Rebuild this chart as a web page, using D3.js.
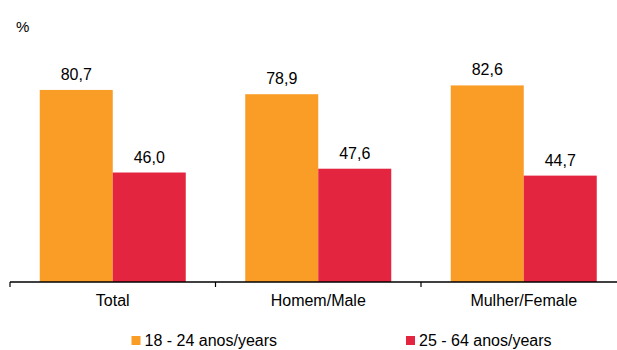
<!DOCTYPE html>
<html><head><meta charset="utf-8">
<script src="https://cdn.jsdelivr.net/npm/d3@7"></script>
<style>body{margin:0;background:#fff}svg{display:block}text{font-family:"Liberation Sans",Arial,sans-serif;fill:#000}</style>
</head><body>
<script>
const categories = ["Total", "Homem/Male", "Mulher/Female"];
const seriesNames = ["18 - 24 anos/years", "25 - 64 anos/years"];
const values18_24 = [80.7, 78.9, 82.6];
const values25_64 = [46.0, 47.6, 44.7];
const colors = ["#F99D27", "#E4253F"];

const W = 617, H = 350;
const svg = d3.select("body").append("svg").attr("width", W).attr("height", H);
const x = d3.scaleBand().domain(categories).range([10, 626.5]).padding(0);
const xs = d3.scaleBand().domain(seriesNames).range([0, x.bandwidth()]).paddingInner(0).paddingOuter(0.4075);
const y = d3.scaleLinear().domain([0, 100]).range([282, 44]);
const fmt = v => v.toFixed(1).replace(".", ",");

const data = categories.map((c, i) => ({cat: c, vals: [values18_24[i], values25_64[i]]}));
const g = svg.selectAll("g.cat").data(data).join("g").attr("transform", d => `translate(${x(d.cat)},0)`);
g.selectAll("rect").data(d => d.vals.map((v, j) => ({s: seriesNames[j], v, j}))).join("rect")
  .attr("x", d => xs(d.s)).attr("width", xs.bandwidth())
  .attr("y", d => y(d.v)).attr("height", d => y(0) - y(d.v))
  .attr("fill", d => colors[d.j]);
g.selectAll("text.val").data(d => d.vals.map((v, j) => ({s: seriesNames[j], v}))).join("text")
  .attr("class", "val").attr("x", d => xs(d.s) + xs.bandwidth() / 2).attr("y", d => y(d.v) - 10)
  .attr("text-anchor", "middle").style("font-size", "16px").text(d => fmt(d.v));

// axis
svg.append("line").attr("x1", 10).attr("x2", W).attr("y1", y(0)).attr("y2", y(0)).attr("stroke", "#000").attr("stroke-width", 1.5);
const tickPos = categories.map(c => x(c));
svg.selectAll("line.tick").data(tickPos).join("line").attr("class", "tick")
  .attr("x1", d => d).attr("x2", d => d).attr("y1", y(0)).attr("y2", y(0) + 5).attr("stroke", "#000").attr("stroke-width", 1.2);
svg.selectAll("text.cat").data(categories).join("text").attr("class", "cat")
  .attr("x", d => x(d) + x.bandwidth() / 2).attr("y", 306).attr("text-anchor", "middle")
  .style("font-size", "16px").text(d => d);

svg.append("text").attr("x", 16).attr("y", 32).style("font-size", "15px").text("%");

// legend
const legX = [131.5, 406];
const lg = svg.selectAll("g.leg").data(seriesNames).join("g").attr("class", "leg")
  .attr("transform", (d, i) => `translate(${legX[i]},0)`);
lg.append("rect").attr("x", 0).attr("y", 336).attr("width", 9).attr("height", 9).attr("fill", (d, i) => colors[i]);
lg.append("text").attr("x", 13).attr("y", 345.5).style("font-size", "16px").text(d => d);
</script>
</body></html>
